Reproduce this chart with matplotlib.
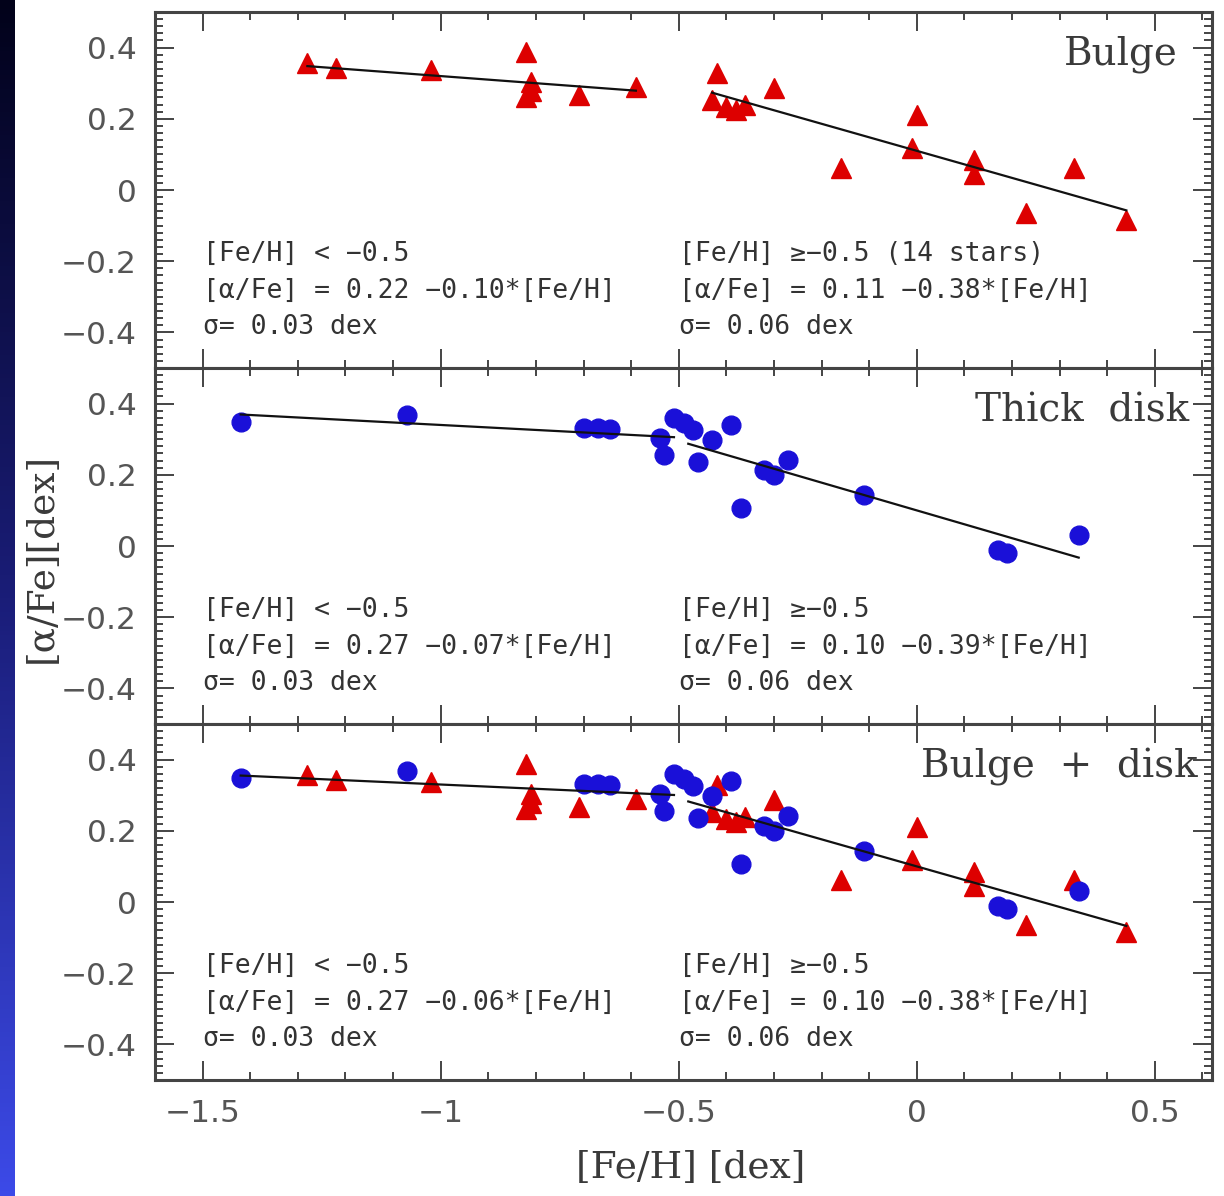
import numpy as np
import matplotlib
matplotlib.use("Agg")
import matplotlib.pyplot as plt
from matplotlib.ticker import FixedLocator, MultipleLocator, FixedFormatter
from matplotlib.colors import LinearSegmentedColormap

# ---------------- data ----------------
bulge_feh = [-1.28, -1.22, -1.02, -0.82, -0.81, -0.81, -0.82, -0.71, -0.59,
             -0.42, -0.43, -0.40, -0.38, -0.36, -0.30, 0.00, -0.01, -0.16,
             0.12, 0.12, 0.33, 0.23, 0.44]
bulge_alpha = [0.357, 0.342, 0.337, 0.389, 0.304, 0.278, 0.262, 0.267, 0.290,
               0.328, 0.253, 0.232, 0.225, 0.238, 0.286, 0.211, 0.117, 0.061,
               0.084, 0.045, 0.061, -0.065, -0.084]

disk_feh = [-1.42, -1.07, -0.70, -0.67, -0.645, -0.54, -0.53, -0.51, -0.49,
            -0.47, -0.43, -0.46, -0.39, -0.37, -0.32, -0.30, -0.27, -0.11,
            0.17, 0.19, 0.34]
disk_alpha = [0.349, 0.368, 0.331, 0.331, 0.329, 0.303, 0.256, 0.359, 0.345,
              0.326, 0.298, 0.237, 0.340, 0.106, 0.213, 0.199, 0.242, 0.143,
              -0.011, -0.019, 0.031]

# linear fits: (intercept, slope, x_start, x_end)
fits_bulge = [(0.22, -0.10, -1.28, -0.59), (0.11, -0.38, -0.43, 0.44)]
fits_disk = [(0.27, -0.07, -1.42, -0.51), (0.10, -0.39, -0.48, 0.34)]
fits_all = [(0.27, -0.06, -1.42, -0.51), (0.10, -0.38, -0.48, 0.44)]

panel_names = ["Bulge", "Thick  disk", "Bulge  +  disk"]
panel_name_x = [0.548, 0.572, 0.590]

text_left = [
    ["[Fe/H] < \u22120.5", "[\u03b1/Fe] = 0.22 \u22120.10*[Fe/H]", "\u03c3= 0.03 dex"],
    ["[Fe/H] < \u22120.5", "[\u03b1/Fe] = 0.27 \u22120.07*[Fe/H]", "\u03c3= 0.03 dex"],
    ["[Fe/H] < \u22120.5", "[\u03b1/Fe] = 0.27 \u22120.06*[Fe/H]", "\u03c3= 0.03 dex"],
]
text_right = [
    ["[Fe/H] \u2265\u22120.5 (14 stars)", "[\u03b1/Fe] = 0.11 \u22120.38*[Fe/H]", "\u03c3= 0.06 dex"],
    ["[Fe/H] \u2265\u22120.5", "[\u03b1/Fe] = 0.10 \u22120.39*[Fe/H]", "\u03c3= 0.06 dex"],
    ["[Fe/H] \u2265\u22120.5", "[\u03b1/Fe] = 0.10 \u22120.38*[Fe/H]", "\u03c3= 0.06 dex"],
]
text_y = [-0.180, -0.284, -0.386]

xticks = [-1.5, -1, -0.5, 0, 0.5]
xticklabels = ["\u22121.5", "\u22121", "\u22120.5", "0", "0.5"]
yticks = [-0.4, -0.2, 0, 0.2, 0.4]
yticklabels = ["\u22120.4", "\u22120.2", "0", "0.2", "0.4"]

RED = "#dd0000"
BLUE = "#1a10d8"
FRAME = "#444444"

W, H = 1224, 1196
fig = plt.figure(figsize=(W / 100, H / 100), dpi=100)
fig.patch.set_facecolor("white")

# left gradient strip
strip = fig.add_axes([0, 0, 15 / W, 1])
cmap = LinearSegmentedColormap.from_list("strip", ["#02021a", "#1a1d78", "#3c4ae8"])
strip.imshow(np.linspace(0, 1, 256).reshape(-1, 1), aspect="auto", cmap=cmap,
             extent=[0, 1, 0, 1], origin="upper")
strip.set_axis_off()

left = 155 / W
width = (1212 - 155) / W
tops = [12, 368, 724]
ph = 356

axes = []
for i, t in enumerate(tops):
    ax = fig.add_axes([left, 1 - (t + ph) / H, width, ph / H])
    axes.append(ax)

tick_font = dict(family=["DejaVu Sans"], size=22.5, color="#555555")
ann_font = dict(family=["DejaVu Sans Mono", "DejaVu Sans"], size=19, color="#333333")
name_font = dict(family=["DejaVu Serif"], size=28, color="#3a3a3a")

for i, ax in enumerate(axes):
    ax.set_xlim(-1.6, 0.62)
    ax.set_ylim(-0.5, 0.5)
    for sp in ax.spines.values():
        sp.set_linewidth(2.2)
        sp.set_color(FRAME)
    ax.xaxis.set_major_locator(FixedLocator(xticks))
    ax.xaxis.set_minor_locator(MultipleLocator(0.1))
    ax.yaxis.set_major_locator(FixedLocator(yticks))
    ax.yaxis.set_minor_locator(MultipleLocator(0.02))
    ax.tick_params(which="both", direction="in", top=True, right=True,
                   color=FRAME, width=1.4)
    ax.tick_params(which="major", length=14)
    ax.tick_params(which="minor", length=6)
    ax.tick_params(axis="y", which="major", pad=13)
    ax.tick_params(axis="x", which="major", pad=14)
    ax.yaxis.set_major_formatter(FixedFormatter(yticklabels))
    for lab in ax.get_yticklabels():
        lab.set_fontfamily(tick_font["family"])
        lab.set_fontsize(tick_font["size"])
        lab.set_color(tick_font["color"])
    if i < 2:
        ax.set_xticklabels([])
    else:
        ax.xaxis.set_major_formatter(FixedFormatter(xticklabels))
        for lab in ax.get_xticklabels():
            lab.set_fontfamily(tick_font["family"])
            lab.set_fontsize(tick_font["size"])
            lab.set_color(tick_font["color"])

    ax.text(panel_name_x[i], 0.38, panel_names[i], ha="right", va="center", **name_font)
    for k in range(3):
        ax.text(-1.5, text_y[k], text_left[i][k], ha="left", va="center", **ann_font)
        ax.text(-0.5, text_y[k], text_right[i][k], ha="left", va="center", **ann_font)

def draw_fits(ax, fits):
    for a, b, x0, x1 in fits:
        xs = np.array([x0, x1])
        ax.plot(xs, a + b * xs, color="#111111", lw=1.6, zorder=4)

ms_tri = 15
ms_cir = 13.5

# Bulge
axes[0].plot(bulge_feh, bulge_alpha, ls="none", marker="^", ms=ms_tri, color=RED,
             mec=RED, zorder=3)
draw_fits(axes[0], fits_bulge)
# Thick disk
axes[1].plot(disk_feh, disk_alpha, ls="none", marker="o", ms=ms_cir, color=BLUE,
             mec=BLUE, zorder=3)
draw_fits(axes[1], fits_disk)
# Combined
axes[2].plot(bulge_feh, bulge_alpha, ls="none", marker="^", ms=ms_tri, color=RED,
             mec=RED, zorder=3)
axes[2].plot(disk_feh, disk_alpha, ls="none", marker="o", ms=ms_cir, color=BLUE,
             mec=BLUE, zorder=3)
draw_fits(axes[2], fits_all)

label_font = dict(family=["DejaVu Serif"], size=27, color="#3a3a3a")
fig.text(691 / W, 1 - 1168 / H, "[Fe/H] [dex]", ha="center",
         va="center", **label_font)
fig.text(42 / W, 1 - 558 / H, "[\u03b1/Fe][dex]", ha="center", va="center",
         rotation=90, **label_font)

fig.savefig("out.png", dpi=100, facecolor="white")
